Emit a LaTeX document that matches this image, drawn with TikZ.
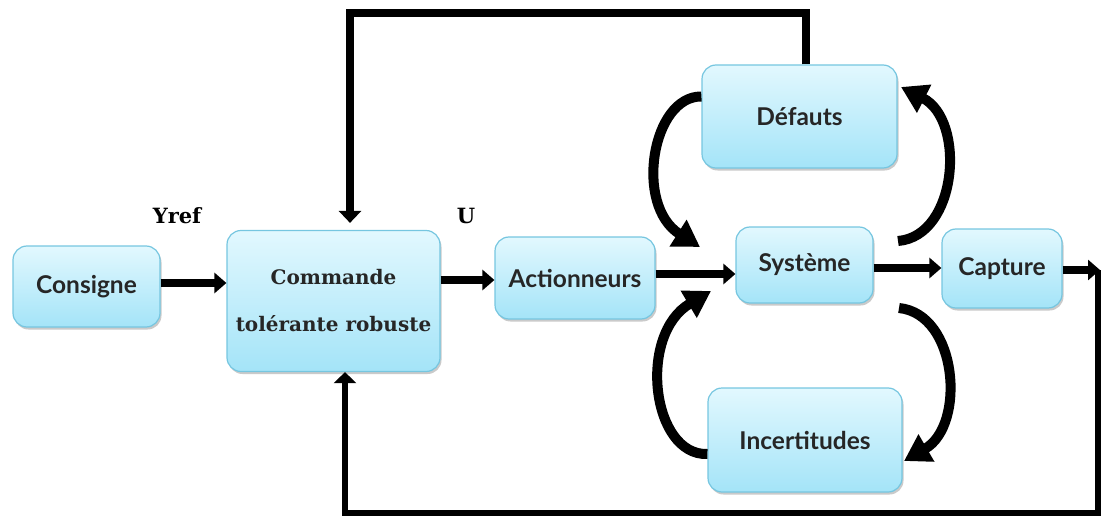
\documentclass[tikz,border=0pt]{standalone}
\usepackage{fontspec}
\setmainfont{DejaVu Serif}
\newfontfamily\boxfont{Lato}
\usetikzlibrary{arrows.meta,shadows,calc}
\definecolor{boxtop}{RGB}{226,248,254}
\definecolor{boxbot}{RGB}{164,228,248}
\definecolor{boxline}{RGB}{118,198,224}
\tikzset{
  box/.style={rectangle, rounded corners=14pt, draw=boxline, line width=1.2pt,
    top color=boxtop, bottom color=boxbot, inner sep=0pt,
    drop shadow={shadow xshift=1.5pt, shadow yshift=-2.5pt, opacity=0.35, fill=black!60},
    font=\boxfont\bfseries\fontsize{24.5}{28}\selectfont, text=black!85},
  flow/.style={line width=8pt, -{Triangle[width=20pt,length=12pt]}},
  loopline/.style={line width=8pt, -{Triangle[width=22pt,length=12pt]}},
  thinloop/.style={line width=6pt, -{Triangle[width=22pt,length=11pt]}},
  curvearrow/.style={line width=10pt, -{Triangle[width=30pt,length=26pt]}},
  lbl/.style={font=\bfseries\fontsize{21}{24}\selectfont}
}
\begin{document}
\begin{tikzpicture}[x=1pt,y=-1pt]
\useasboundingbox (0,0) rectangle (1101,519);
\node[box, minimum width=147pt, minimum height=81pt] (consigne) at (86.5,286.5) {\raisebox{-3pt}{Consigne}};
\node[box, minimum width=213pt, minimum height=141pt, align=center,
  font=\bfseries\fontsize{20}{47}\selectfont] (commande) at (333.5,301) {Commande\\tolérante robuste};
\node[box, minimum width=160pt, minimum height=82pt] (actionneurs) at (575,278) {\raisebox{-3pt}{Actionneurs}};
\node[box, minimum width=195pt, minimum height=103pt] (defauts) at (799.5,116.5) {Défauts};
\node[box, minimum width=137pt, minimum height=76pt] (systeme) at (804.5,265) {Système};
\node[box, minimum width=194pt, minimum height=104pt] (incert) at (805,440) {Incertitudes};
\node[box, minimum width=120pt, minimum height=79pt] (capture) at (1002,268.5) {Capture};
\node[lbl] (yref) at (177,216) {Yref};
\node[lbl] (u) at (466,216) {U};
% straight flows
\draw[flow] (consigne.east |- 0,283) -- (commande.west |- 0,283);
\draw[flow] (commande.east |- 0,280) -- (actionneurs.west |- 0,280);
\draw[flow] (actionneurs.east |- 0,274) -- (systeme.west |- 0,274);
\draw[flow] (systeme.east |- 0,268) -- (capture.west |- 0,268);
\coordinate (outR) at (1100,270);
\draw[flow] (capture.east |- outR) -- (outR);
% feedback loops
\coordinate (tr) at (806,13);
\coordinate (tl) at (350,13);
\draw[loopline, shorten >=7pt] (defauts.north -| tr) -- (tr) -- (tl) -- (commande.north -| tl);
\coordinate (br) at (1098,513);
\coordinate (bl) at (345,513);
\draw[thinloop, line join=miter] (1098,270) -- (br) -- (bl) -- (commande.south -| bl);
% curved arrows
\coordinate (a1) at (700,247);
\draw[curvearrow] ([yshift=20pt]defauts.west) .. controls (652,96) and (634,205) .. (a1);
\coordinate (b0) at (898,241);
\coordinate (b1) at (901,87);
\draw[curvearrow] (b0) .. controls (958,236) and (966,120) .. (b1);
\coordinate (c0) at (899,308);
\coordinate (c1) at (904,461);
\draw[curvearrow] (c0) .. controls (958,314) and (966,425) .. (c1);
\coordinate (d1) at (711,291);
\draw[curvearrow] ([yshift=-14pt]incert.west) .. controls (652,456) and (637,335) .. (d1);
\end{tikzpicture}
\end{document}
